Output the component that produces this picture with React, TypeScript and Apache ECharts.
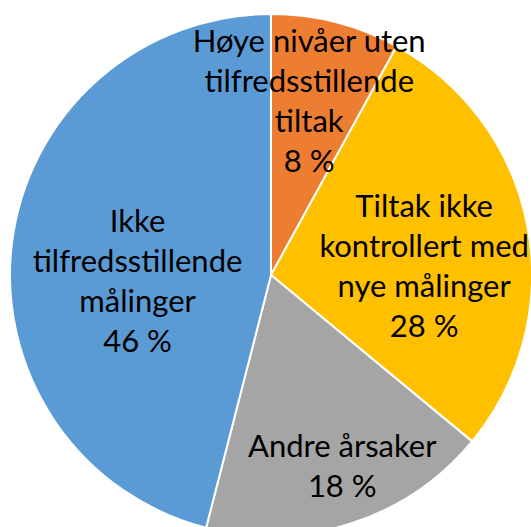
import React, { useEffect, useRef } from "react";
import * as echarts from "echarts";

const categories = [
  "Høye nivåer uten\ntilfredsstillende\ntiltak",
  "Tiltak ikke\nkontrollert med\nnye målinger",
  "Andre årsaker",
  "Ikke\ntilfredsstillende\nmålinger",
];
const values = [8, 28, 18, 46];
const colors = ["#ED7D31", "#FFC000", "#A5A5A5", "#5B9BD5"];
const labelOffsets: [number, number][] = [
  [5, -46],
  [22, 15],
  [30, 63],
  [-1, 22],
];

export default function App() {
  const ref = useRef<HTMLDivElement>(null);
  useEffect(() => {
    if (!ref.current) return;
    const chart = echarts.init(ref.current, undefined, { renderer: "svg" });
    chart.setOption({
      animation: false,
      backgroundColor: "#ffffff",
      series: [
        {
          type: "pie",
          center: [271, 275],
          radius: [0, 261],
          startAngle: 90,
          clockwise: true,
          itemStyle: { borderColor: "#ffffff", borderWidth: 2 },
          label: {
            show: true,
            position: "inside",
            fontFamily: "Lato",
            fontSize: 31,
            lineHeight: 40,
            color: "#000000",
            align: "center",
            formatter: (p: any) => `${p.name}\n${p.value} %`,
          },
          labelLine: { show: false },
          data: categories.map((c, i) => ({
            name: c,
            value: values[i],
            itemStyle: { color: colors[i] },
            label: { offset: labelOffsets[i] },
          })),
        },
      ],
    });
    return () => chart.dispose();
  }, []);
  return (
    <div
      ref={ref}
      style={{ position: "fixed", left: 0, top: 0, width: 531, height: 527 }}
    />
  );
}
